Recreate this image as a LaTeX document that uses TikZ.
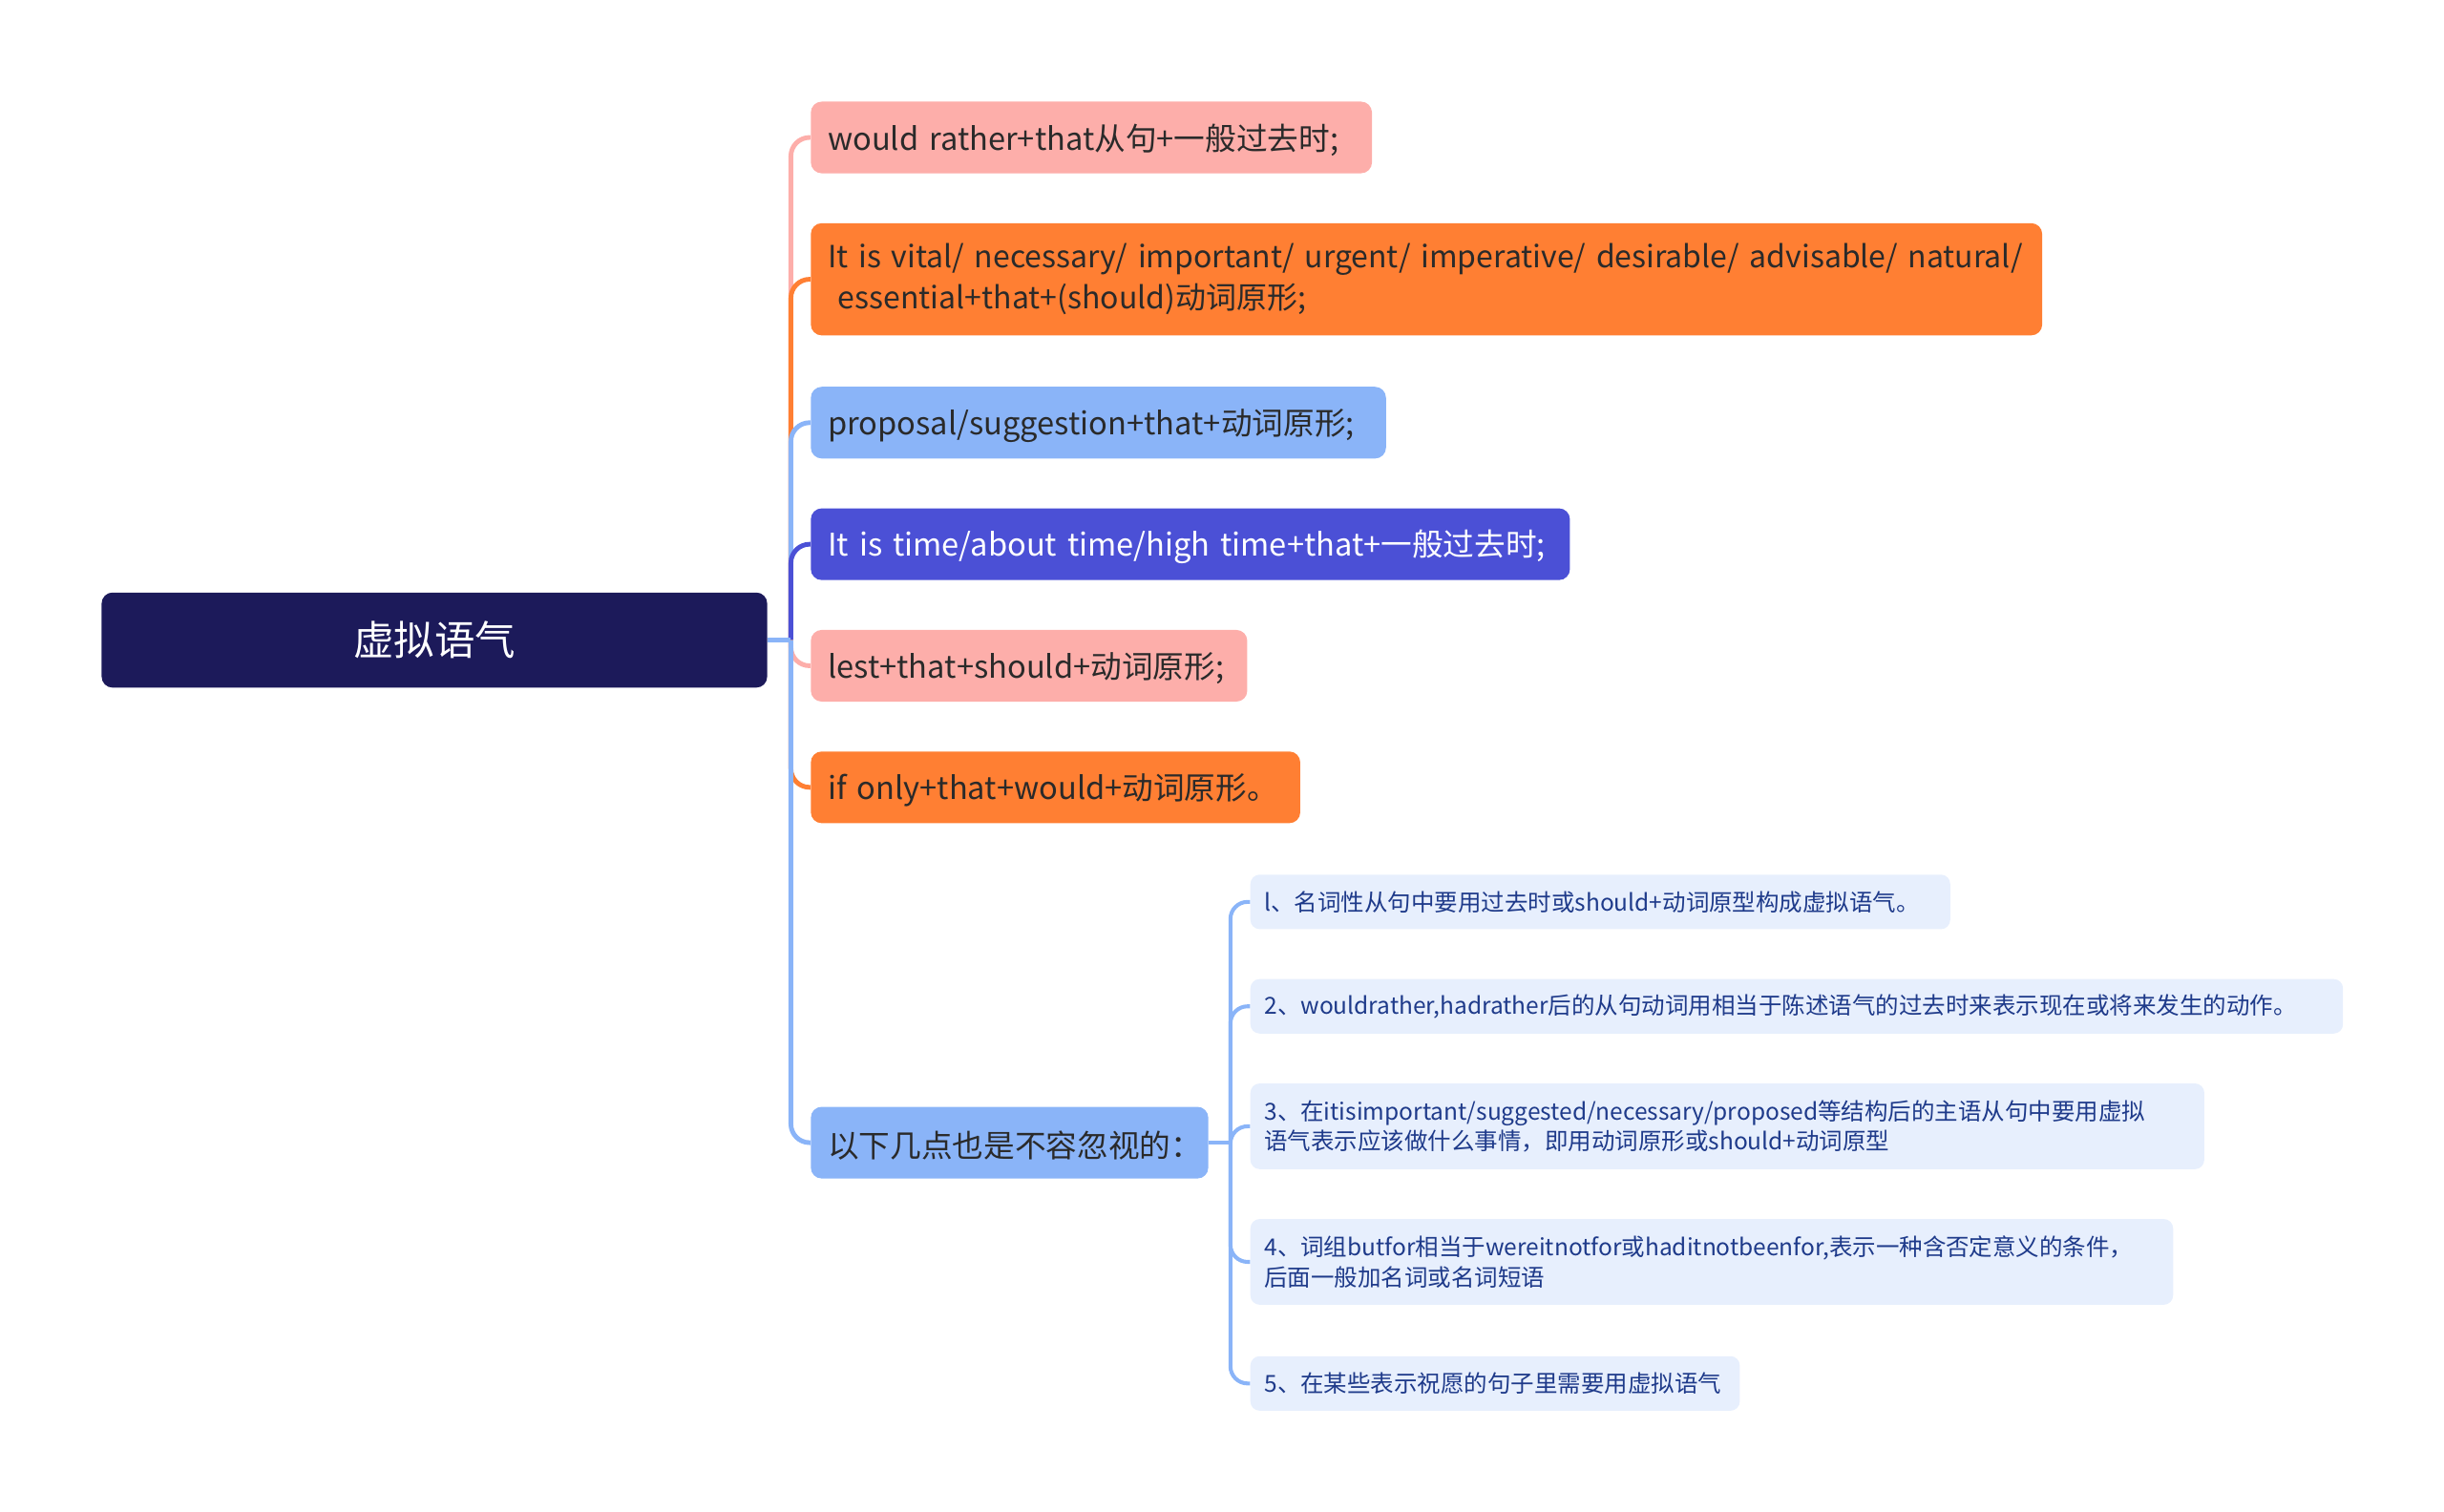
\documentclass[tikz,border=0pt]{standalone}
\usepackage{fontspec}
\setmainfont{Noto Sans CJK SC}
\usetikzlibrary{positioning}
\definecolor{rootc}{HTML}{1C1A5A}
\definecolor{pinkc}{HTML}{FDAEAA}
\definecolor{orangec}{HTML}{FF7F33}
\definecolor{bluec}{HTML}{8AB4F8}
\definecolor{indigoc}{HTML}{4B50D6}
\definecolor{subfill}{HTML}{E7EFFD}
\definecolor{subtext}{HTML}{1E3A8A}
\definecolor{maintext}{HTML}{2A2A2A}

\begin{document}
\begin{tikzpicture}[x=1pt,y=-1pt,
  topic/.style={anchor=north west,rounded corners=7pt,inner xsep=11pt,inner ysep=0pt,align=left,text=maintext,font=\fontsize{20}{26}\selectfont},
  sub/.style={anchor=north west,rounded corners=6pt,fill=subfill,inner xsep=9pt,inner ysep=0pt,align=left,text=subtext,font=\fontsize{15}{19.5}\selectfont},
  branch/.style={line width=3pt,rounded corners=12pt},
  subbranch/.style={line width=2.5pt,bluec,rounded corners=11pt}]
\useasboundingbox (0,0) rectangle (1568,970);
% root
\node[anchor=north west,fill=rootc,rounded corners=7pt,minimum width=427pt,minimum height=61pt,text=white,font=\fontsize{26}{30}\selectfont] (root) at (65,380) {虚拟语气};
% first level
\node[topic,fill=pinkc,text width=338pt,minimum height=46pt,text height=20pt] (n1) at (520,65) {would rather+that从句+一般过去时;};
\node[topic,fill=orangec,text width=768pt,minimum height=72pt,font=\fontsize{19.6}{26}\selectfont] (n2) at (520,143) {\mbox{It is vital/ necessary/ important/ urgent/ imperative/ desirable/ advisable/ natural/}\\\ essential+that+(should)动词原形;};
\node[topic,fill=bluec,text width=347pt,minimum height=46pt,text height=20pt] (n3) at (520,248) {proposal/suggestion+that+动词原形;};
\node[topic,fill=indigoc,text=white,text width=465pt,minimum height=46pt,text height=20pt] (n4) at (520,326) {It is time/about time/high time+that+一般过去时;};
\node[topic,fill=pinkc,text width=258pt,minimum height=46pt,text height=20pt] (n5) at (520,404) {lest+that+should+动词原形;};
\node[topic,fill=orangec,text width=292pt,minimum height=46pt,text height=20pt] (n6) at (520,482) {if only+that+would+动词原形。};
\node[topic,fill=bluec,text width=233pt,minimum height=46pt,text height=20pt] (n7) at (520,710) {以下几点也是不容忽视的：};
% second level
\node[sub,text width=431pt,minimum height=35pt] (m1) at (802,561) {l、名词性从句中要用过去时或should+动词原型构成虚拟语气。};
\node[sub,text width=683pt,minimum height=35pt] (m2) at (802,628) {2、wouldrather,hadrather后的从句动词用相当于陈述语气的过去时来表示现在或将来发生的动作。};
\node[sub,text width=594pt,minimum height=55pt] (m3) at (802,695) {3、在itisimportant/suggested/necessary/proposed等结构后的主语从句中要用虚拟\\语气表示应该做什么事情，即用动词原形或should+动词原型};
\node[sub,text width=574pt,minimum height=55pt] (m4) at (802,782) {4、词组butfor相当于wereitnotfor或haditnotbeenfor,表示一种含否定意义的条件，\\后面一般加名词或名词短语};
\node[sub,text width=296pt,minimum height=35pt] (m5) at (802,870) {5、在某些表示祝愿的句子里需要用虚拟语气};
% connectors
\coordinate (hub) at ([xshift=15pt]root.east);
\foreach \n/\c in {n1/pinkc,n2/orangec,n3/bluec,n4/indigoc,n5/pinkc,n6/orangec,n7/bluec}
  \draw[branch,\c] (hub) |- (\n.west);
\draw[branch,bluec] (root.east) -- (hub);
\coordinate (hub2) at ([xshift=14pt]n7.east);
\draw[subbranch] (n7.east) -- (hub2);
\foreach \m in {m1,m2,m3,m4,m5}
  \draw[subbranch] (hub2) |- (\m.west);
\end{tikzpicture}
\end{document}
